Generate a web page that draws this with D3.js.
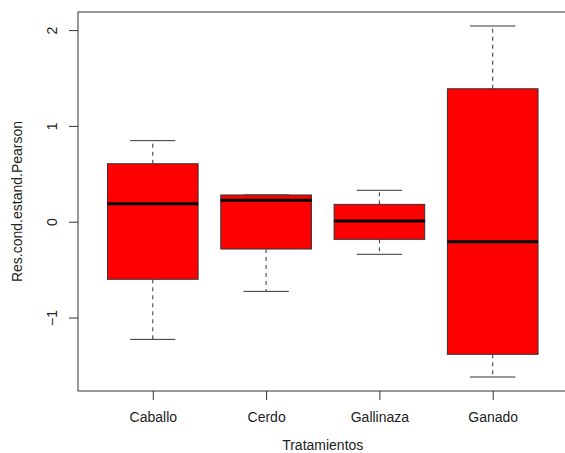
<!DOCTYPE html>
<html>
<head>
<meta charset="utf-8">
<script src="https://cdn.jsdelivr.net/npm/d3@7"></script>
<style>
  html, body { margin: 0; padding: 0; background: #fff; }
  svg { display: block; }
  text { font-family: "Liberation Sans", Arial, sans-serif; fill: #222; }
</style>
</head>
<body>
<script>
const categories = ["Caballo", "Cerdo", "Gallinaza", "Ganado"];
const whiskerLow = [-1.228, -0.727, -0.340, -1.621];
const q1 = [-0.601, -0.285, -0.184, -1.384];
const medians = [0.188, 0.223, 0.007, -0.209];
const q3 = [0.605, 0.279, 0.181, 1.388];
const whiskerHigh = [0.846, 0.279, 0.328, 2.043];
const yTicks = [-1, 0, 1, 2];
const xTitle = "Tratamientos";
const yTitle = "Res.cond.estand.Pearson";

const W = 565, H = 453;
const mLeft = 78, mTop = 12, mBottom = 391, mRight = 567.5;

const svg = d3.select("body").append("svg").attr("width", W).attr("height", H);

const x = d3.scaleLinear().domain([0.34, 4.66]).range([mLeft, mRight]);
const y = d3.scaleLinear().domain([-1.767, 2.189]).range([mBottom, mTop]);

const boxW = 0.8, capW = 0.4;

const g = svg.append("g");
categories.forEach((c, i) => {
  const cx = i + 1;
  if (whiskerHigh[i] > q3[i]) {
    g.append("line").attr("x1", x(cx)).attr("x2", x(cx))
      .attr("y1", y(q3[i])).attr("y2", y(whiskerHigh[i]))
      .attr("stroke", "#333").attr("stroke-dasharray", "4,4");
  }
  g.append("line").attr("x1", x(cx)).attr("x2", x(cx))
    .attr("y1", y(q1[i])).attr("y2", y(whiskerLow[i]))
    .attr("stroke", "#333").attr("stroke-dasharray", "4,4");
  [whiskerHigh[i], whiskerLow[i]].forEach(v => {
    g.append("line").attr("x1", x(cx - capW / 2)).attr("x2", x(cx + capW / 2))
      .attr("y1", y(v)).attr("y2", y(v)).attr("stroke", "#333");
  });
  g.append("rect").attr("x", x(cx - boxW / 2)).attr("width", x(cx + boxW / 2) - x(cx - boxW / 2))
    .attr("y", y(q3[i])).attr("height", y(q1[i]) - y(q3[i]))
    .attr("fill", "#ff0000").attr("stroke", "#333").attr("stroke-width", 1);
  g.append("line").attr("x1", x(cx - boxW / 2)).attr("x2", x(cx + boxW / 2))
    .attr("y1", y(medians[i])).attr("y2", y(medians[i]))
    .attr("stroke", "#000").attr("stroke-width", 3);
});

svg.append("rect").attr("x", mLeft).attr("y", mTop)
  .attr("width", mRight - mLeft).attr("height", mBottom - mTop)
  .attr("fill", "none").attr("stroke", "#333").attr("stroke-width", 1);

const yAxis = svg.append("g").attr("transform", `translate(${mLeft},0)`)
  .call(d3.axisLeft(y).tickValues(yTicks).tickFormat(d3.format("d")).tickSize(9).tickPadding(0));
yAxis.select(".domain").remove();
yAxis.selectAll(".tick line").attr("stroke", "#333");
yAxis.selectAll(".tick text")
  .attr("transform", "rotate(-90)")
  .attr("x", 0).attr("y", -26)
  .attr("dy", "0.35em")
  .style("text-anchor", "middle")
  .attr("font-size", 14).attr("fill", "#222");

const xAxis = svg.append("g").attr("transform", `translate(0,${mBottom})`)
  .call(d3.axisBottom(x).tickValues([1, 2, 3, 4]).tickFormat((d) => categories[d - 1]).tickSize(9).tickPadding(12));
xAxis.select(".domain").remove();
xAxis.selectAll(".tick line").attr("stroke", "#333");
xAxis.selectAll(".tick text").attr("font-size", 14).attr("fill", "#222");

svg.append("text").attr("x", x(2.5)).attr("y", 450)
  .attr("text-anchor", "middle").attr("font-size", 14).text(xTitle);
svg.append("text")
  .attr("transform", `translate(22,${(mTop + mBottom) / 2}) rotate(-90)`)
  .attr("text-anchor", "middle").attr("font-size", 14).text(yTitle);
</script>
</body>
</html>
